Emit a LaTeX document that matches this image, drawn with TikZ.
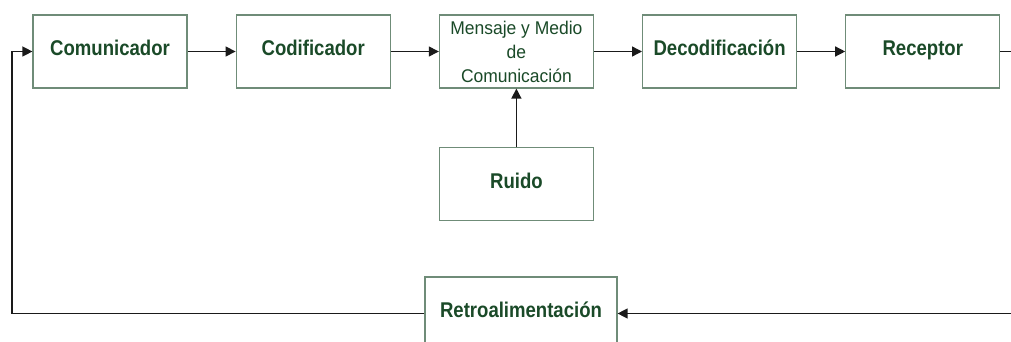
\documentclass[tikz,border=0pt]{standalone}
\usepackage{fontspec}
\usepackage{xcolor}
\usetikzlibrary{positioning,arrows.meta}
\newfontfamily\boxfont[FakeStretch=0.87]{Liberation Sans}
\newfontfamily\plainfont[FakeStretch=0.95]{Liberation Sans}
\definecolor{boxgreen}{HTML}{1A4A28}
\definecolor{boxline}{HTML}{6F8C78}
\definecolor{wire}{HTML}{1A1A1A}
\tikzset{
  stage/.style={draw=boxline, line width=0.9pt, fill=white,
    minimum width=115.5pt, minimum height=54.75pt, inner sep=0pt,
    text height=0.85em, text depth=0.2em,
    text=boxgreen, font=\boxfont\bfseries\fontsize{16}{19}\selectfont},
  flow/.style={draw=wire, line width=1pt,
    -{Triangle[length=7.5pt,width=7.5pt]}}
}
\begin{document}
\begin{tikzpicture}[x=0.75pt, y=0.75pt, node distance=36pt]
    \useasboundingbox (0,0) rectangle (1011,-342);
    \clip (0,0) rectangle (1011,-342);
    % top row
    \node[stage] (com) at (110,-51.5) {Comunicador};
    \node[stage, right=of com] (cod) {Codificador};
    \node[stage, right=of cod, align=center, text height=, text depth=,
      font=\plainfont\fontsize{13.8}{18}\selectfont] (msg)
      {Mensaje y Medio\\de\\Comunicación};
    \node[stage, right=of msg] (dec) {Decodificación};
    \node[stage, right=of dec] (rec) {Receptor};
    \node[stage, below=43.5pt of msg] (ruido) {Ruido};
    \node[stage, minimum width=144pt] (retro) at (521,-313.5) {Retroalimentación};
    \coordinate (rturn) at (1030,-51.5);
    \coordinate (lturn) at (12,-313.5);
    \draw[flow] (com) -- (cod);
    \draw[flow] (cod) -- (msg);
    \draw[flow] (msg) -- (dec);
    \draw[flow] (dec) -- (rec);
    \draw[flow] (ruido) -- (msg);
    % feedback loop
    \draw[flow] (rec.east) -- (rturn) |- (retro.east);
    \draw[flow] (retro.west) -- (lturn) |- (com.west);
\end{tikzpicture}
\end{document}
